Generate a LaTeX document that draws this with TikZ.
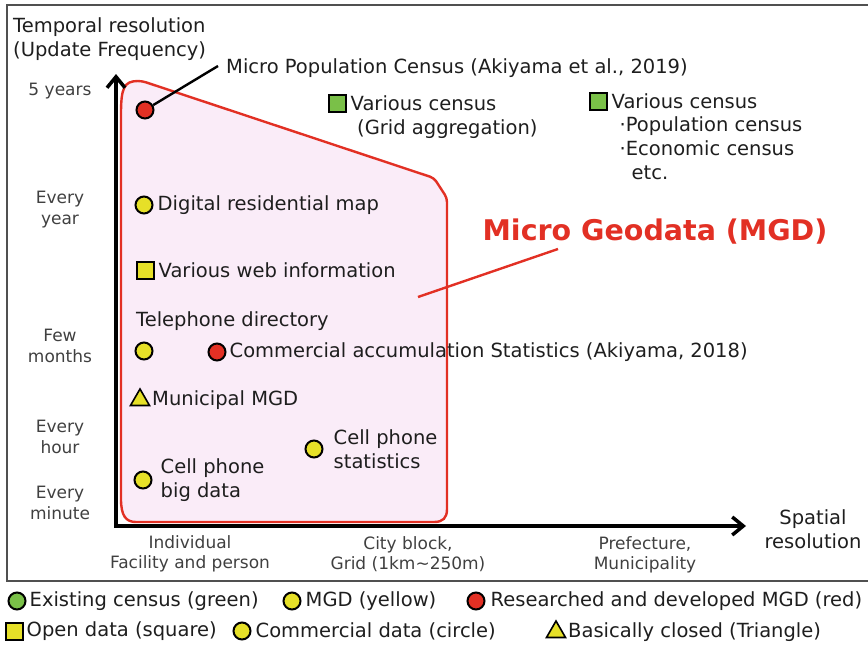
\documentclass[tikz,border=0pt]{standalone}
\usepackage{fontspec}
\setmainfont{DejaVu Sans}
\usetikzlibrary{positioning}
\usetikzlibrary{arrows.meta}
\usetikzlibrary{shapes.geometric}
\usetikzlibrary{calc}
\definecolor{figRojo}{RGB}{226,48,36}
\definecolor{figRosa}{RGB}{250,236,248}
\definecolor{figAmarillo}{RGB}{230,224,40}
\definecolor{figVerde}{RGB}{122,192,72}
\definecolor{figTexto}{RGB}{30,30,30}
\definecolor{figMarco}{RGB}{80,80,80}
\tikzset{
  texto/.style={font=\fontsize{19.5}{24}\selectfont, text=figTexto, inner sep=0pt, align=left},
  etiqY/.style={font=\fontsize{17}{21}\selectfont, text=figTexto!85!white, inner sep=0pt, align=center},
  etiqX/.style={font=\fontsize{17}{20}\selectfont, text=figTexto!85!white, inner sep=0pt, align=center},
  punto/.style={circle, draw=black, line width=2pt, minimum size=17pt, inner sep=0pt},
  puntoA/.style={punto, fill=figAmarillo},
  puntoR/.style={punto, fill=figRojo},
  puntoV/.style={punto, fill=figVerde},
  cuadro/.style={rectangle, draw=black, line width=2pt, minimum size=17pt, inner sep=0pt},
  cuadroA/.style={cuadro, fill=figAmarillo},
  cuadroV/.style={cuadro, fill=figVerde},
  triA/.style={regular polygon, regular polygon sides=3, draw=black, line width=1.6pt,
    fill=figAmarillo, minimum size=22pt, inner sep=0pt},
  eje/.style={line width=3.5pt, draw=black,
    arrows={Straight Barb[length=11pt, width=18pt]-Straight Barb[length=11pt, width=18pt]}},
  zonaMGD/.style={draw=figRojo, line width=2.4pt, fill=figRosa, rounded corners=4pt},
  guia/.style={line width=2.4pt, draw=black},
  guiaR/.style={line width=2.4pt, draw=figRojo}
}
\begin{document}
\begin{tikzpicture}[x=1pt, y=-1pt]
  \useasboundingbox (0,0) rectangle (868,645);
  \draw[figMarco, line width=1.5pt] (7,5) rectangle (874,581);

  % zona de microdatos
  \path[zonaMGD] (121,495) -- (121,118) .. controls (121,88) and (124,81) .. (142,81)
    -- (434,178) -- (447,198) -- (447,505) .. controls (447,518) and (443,522) .. (430,522)
    -- (140,522) .. controls (126,522) and (121,516) .. (121,495) -- cycle;

  % ejes
  \coordinate (origen) at (116,526);
  \coordinate (yTope) at (116,74);
  \coordinate (xFin) at (746,526);
  \draw[eje] (yTope) -- (origen) -- (xFin);

  \node[texto, anchor=north west] (tiempo) at (13,17) {Temporal resolution\\(Update Frequency)};
  \node[texto, align=center] (espacial) at (813,529) {Spatial\\resolution};

  \node[etiqY] (y5) at (60,91) {5 years};
  \node[etiqY] (yAnio) at (60,210) {Every\\year};
  \node[etiqY] (yMeses) at (60,346) {Few\\months};
  \node[etiqY] (yHora) at (60,437) {Every\\hour};
  \node[etiqY] (yMin) at (60,503) {Every\\minute};

  \node[etiqX] (xInd) at (190,554) {Individual\\Facility and person};
  \node[etiqX] (xBloque) at (408,554) {City block,\\Grid (1km\textasciitilde250m)};
  \node[etiqX] (xPref) at (645,555) {Prefecture,\\Municipality};

  % datos
  \node[puntoR] (micro) at (145,110) {};
  \node[texto, anchor=west] (microTxt) at (226,68) {Micro Population Census (Akiyama et al., 2019)};
  \coordinate (microGuia) at (218,66);
  \draw[guia] (micro) -- (microGuia);

  \node[cuadroV] (censoA) at (337,103) {};
  \node[texto, right=4pt of censoA] (censoATxt) {Various census};
  \node[texto, anchor=west] (gridTxt) at (357,129) {(Grid aggregation)};

  \node[cuadroV] (censoB) at (598,101) {};
  \node[texto, right=4pt of censoB] (censoBTxt) {Various census};
  \node[texto, anchor=north west] (censoBLista) at ($(censoBTxt.south west)+(8,8)$)
    {·Population census\\·Economic census\\\hspace*{12pt}etc.};

  \node[puntoA] (digital) at (144,205) {};
  \node[texto, right=4pt of digital] (digitalTxt) {Digital residential map};

  \node[cuadroA] (web) at (145,270) {};
  \node[texto, right=4pt of web] (webTxt) {Various web information};

  \node[texto, anchor=west] (telfTxt) at (136,321) {Telephone directory};
  \node[puntoA] (telf) at (144,351) {};

  \node[puntoR] (comercial) at (217,352) {};
  \node[texto, right=3pt of comercial] (comercialTxt) {Commercial accumulation Statistics (Akiyama, 2018)};

  \node[triA] (municipal) at (140,400) {};
  \node[texto, anchor=west] (municipalTxt) at (152,400) {Municipal MGD};

  \node[puntoA] (celular) at (143,480) {};
  \node[texto, right=8pt of celular] (celularTxt) {Cell phone\\big data};

  \node[puntoA] (estad) at (314,449) {};
  \node[texto, right=10pt of estad] (estadTxt) {Cell phone\\statistics};

  \node[texto, font=\fontsize{28.5}{32}\selectfont\bfseries, text=figRojo] (mgd) at (655,232) {Micro Geodata (MGD)};
  \coordinate (mgdIni) at (418,297);
  \coordinate (mgdFin) at (558,249);
  \draw[guiaR] (mgdIni) -- (mgdFin);

  % leyenda
  \node[puntoV] (lgVerde) at (17,601) {};
  \node[texto, right=3pt of lgVerde] (lgVerdeTxt) {Existing census (green)};
  \node[puntoA] (lgAmar) at (292,601) {};
  \node[texto, right=4pt of lgAmar] (lgAmarTxt) {MGD (yellow)};
  \node[puntoR] (lgRojo) at (476,601) {};
  \node[texto, right=5pt of lgRojo] (lgRojoTxt) {Researched and developed MGD (red)};

  \node[cuadroA] (lgCuad) at (14,631) {};
  \node[texto, right=3pt of lgCuad] (lgCuadTxt) {Open data (square)};
  \node[puntoA] (lgCirc) at (242,631) {};
  \node[texto, right=4pt of lgCirc] (lgCircTxt) {Commercial data (circle)};
  \node[triA] (lgTri) at (556,632) {};
  \node[texto, anchor=west] (lgTriTxt) at (568,632) {Basically closed (Triangle)};
\end{tikzpicture}
\end{document}
